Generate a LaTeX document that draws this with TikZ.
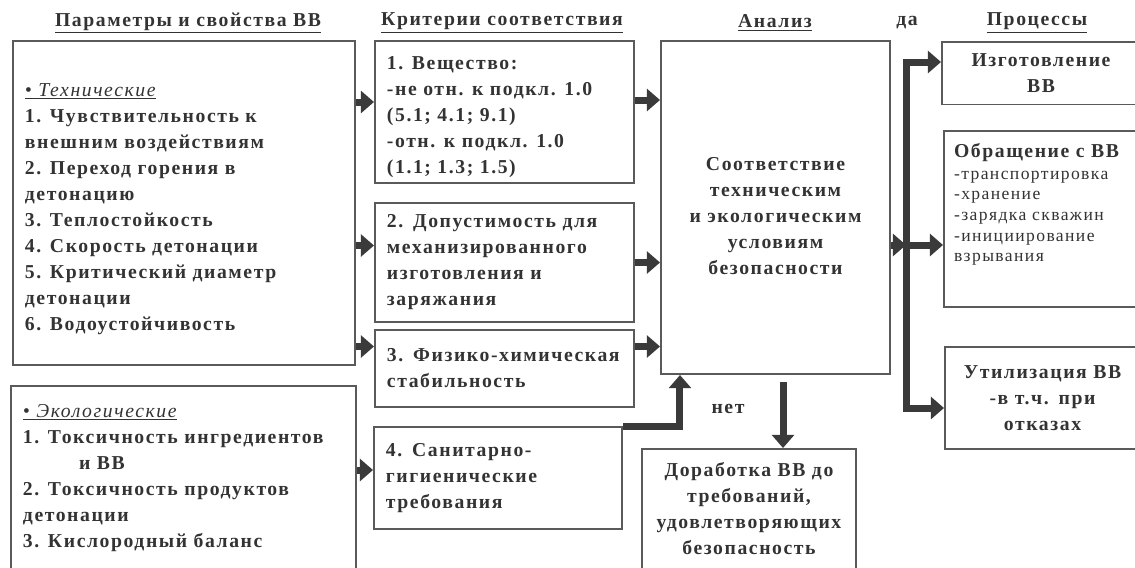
\documentclass[tikz,border=0pt]{standalone}
\usepackage{fontspec}
\setmainfont{Liberation Serif}[LetterSpace=8]
\usepackage{xcolor}
\usepackage{tikz}
\usetikzlibrary{arrows.meta,positioning,calc}
\definecolor{inkgray}{HTML}{333333}
\definecolor{framegray}{HTML}{5A5A5A}
\definecolor{arrowgray}{HTML}{3A3A3A}
\newcommand{\vvfont}{\fontsize{14}{18.5}\selectfont\bfseries}
\newcommand{\listfont}{\fontsize{12.5}{14.7}\selectfont\mdseries}
\tikzstyle{box} = [draw=framegray, line width=1.4pt, rectangle, inner xsep=0.3cm, inner ysep=0.3cm, text=inkgray, font=\vvfont]
\tikzstyle{lbox} = [box, align=left]
\tikzstyle{cbox} = [box, align=center]
\tikzstyle{head} = [text=inkgray, font=\vvfont, inner sep=0pt]
\tikzstyle{line} = [draw=arrowgray, line width=0.175cm, -{Triangle[length=0.33cm,width=0.55cm]}]

\begin{document}
\begin{tikzpicture}[x=0.025cm,y=-0.025cm]
	\fill[white] (0,0) rectangle (1135,567);
	\useasboundingbox (0,0) rectangle (1135,567); % picture frame in pixels
	
	% headings
	\node[head] (hpar) at (188,23) {\underline{Параметры и свойства ВВ}};
	\node[head] (hcrit) at (502,23) {\underline{Критерии соответствия}};
	\node[head] (hanal) at (775,23) {\underline{Анализ}};
	\node[head] (hda) at (907,23) {да};
	\node[head] (hproc) at (1037,23) {\underline{Процессы}};
	
	% parameters
	\node[box] (tech) at (184,203) {%
		\begin{minipage}[c][7.5cm][c]{7.95cm}\raggedright\vspace*{0.3cm}
		\underline{\mdseries\itshape\textbullet\ Технические}\\
		1. Чувствительность к\\
		внешним воздействиям\\
		2. Переход горения в\\
		детонацию\\
		3. Теплостойкость\\
		4. Скорость детонации\\
		5. Критический диаметр\\
		детонации\\
		6. Водоустойчивость
		\end{minipage}};
	\node[box, anchor=north west, inner ysep=0.45cm] (eco) at (10,385) {%
		\begin{minipage}[t][6cm][t]{8.025cm}\raggedright
		\underline{\mdseries\itshape\textbullet\ Экологические}\\
		\mbox{1. Токсичность ингредиентов}\\
		\hspace*{1.4cm}и ВВ\\
		2. Токсичность продуктов\\
		детонации\\
		3. Кислородный баланс
		\end{minipage}};
	
	% criteria
	\node[box] (crit1) at (504.5,112) {%
		\begin{minipage}[c][2.95cm][c]{5.875cm}\raggedright\vspace*{0.25cm}
		1. Вещество:\\
		\mbox{-не отн. к подкл. 1.0}\\
		(5.1; 4.1; 9.1)\\
		-отн. к подкл. 1.0\\
		(1.1; 1.3; 1.5)
		\end{minipage}};
	\node[lbox, minimum width=6.475cm, minimum height=2.975cm, text width=5.875cm] (crit2) at (504.5,262.5) {%
		\mbox{2. Допустимость для}\\
		механизированного\\
		изготовления и\\
		заряжания};
	\node[lbox, minimum width=6.475cm, minimum height=1.925cm, text width=5.875cm] (crit3) at (504.5,368.5) {%
		\mbox{3. Физико-химическая}\\
		стабильность};
	\node[lbox, minimum width=6.2cm, minimum height=2.55cm, text width=5.6cm] (crit4) at (498,478) {%
		4. Санитарно-\\
		гигиенические\\
		требования};
	
	% analysis
	\node[box] (anal) at (775.5,207.5) {%
		\begin{minipage}[c][7.725cm][c]{5.125cm}\centering\vspace*{0.45cm}
		Соответствие\\
		техническим\\
		и экологическим\\
		условиям\\
		безопасности
		\end{minipage}};
	\node[box, anchor=north west, inner ysep=0.33cm] (dorab) at (641,448) {%
		\begin{minipage}[t][4cm][t]{4.75cm}\centering
		Доработка ВВ до\\
		требований,\\
		удовлетворяющих\\
		безопасность
		\end{minipage}};
	\node[head] (hnet) at (728,409) {нет};
	
	% processes
	\node[cbox, minimum width=4.95cm, minimum height=1.525cm, text width=4.35cm] (izg) at (1041,73) {%
		Изготовление\\
		ВВ};
	\node[box, anchor=north west, inner xsep=0.25cm] (obr) at (943,130) {%
		\begin{minipage}[t][3.8cm][t]{4.425cm}\raggedright
		Обращение с ВВ\\[1pt]
		{\listfont -транспортировка\\
		-хранение\\
		-зарядка скважин\\
		-инициирование\\
		взрывания\par}
		\end{minipage}};
	\node[cbox, minimum width=4.875cm, minimum height=2.55cm, text width=4.275cm] (util) at (1042.5,398) {%
		Утилизация ВВ\\
		-в т.ч. при\\
		отказах};
	
	% arrows into the criteria
	\draw[line] ($(tech.east |- crit1.west)+(0,-10)$) -- ($(crit1.west)+(0,-10)$);
	\draw[line] ($(tech.east |- crit2.west)+(0,-17)$) -- ($(crit2.west)+(0,-17)$);
	\draw[line] ($(tech.east |- crit3.west)+(0,-22)$) -- ($(crit3.west)+(0,-22)$);
	\draw[line] ($(eco.east |- crit4.west)+(0,-8)$) -- ($(crit4.west)+(0,-8)$);
	
	% arrows into the analysis
	\draw[line] ($(crit1.east)+(0,-12)$) -- ($(crit1.east -| anal.west)+(0,-12)$);
	\draw[line] (crit2.east) -- (crit2.east -| anal.west);
	\draw[line] ($(crit3.east)+(0,-22)$) -- ($(crit3.east -| anal.west)+(0,-22)$);
	\draw[line] (crit4.north east) -| ($(anal.south west)+(20,0)$);
	
	% no
	\coordinate (netx) at ($(anal.south)+(7.5,7)$);
	\draw[line] (netx) -- (netx |- dorab.north);
	
	% yes
	\coordinate (fork) at ($(anal.east)+(15,37.5)$);
	\coordinate (bustop) at ($(fork |- izg.west)+(0,-11)$);
	\coordinate (busbot) at ($(fork |- util.west)+(0,10)$);
	\draw[line] (anal.east |- fork) -- (fork);
	\draw[line] (busbot) -- (bustop) -- (bustop -| izg.west);
	\draw[line] (bustop) -- (busbot) -- (busbot -| util.west);
	\draw[line] (fork) -- (fork -| obr.west);
\end{tikzpicture}
\end{document}
